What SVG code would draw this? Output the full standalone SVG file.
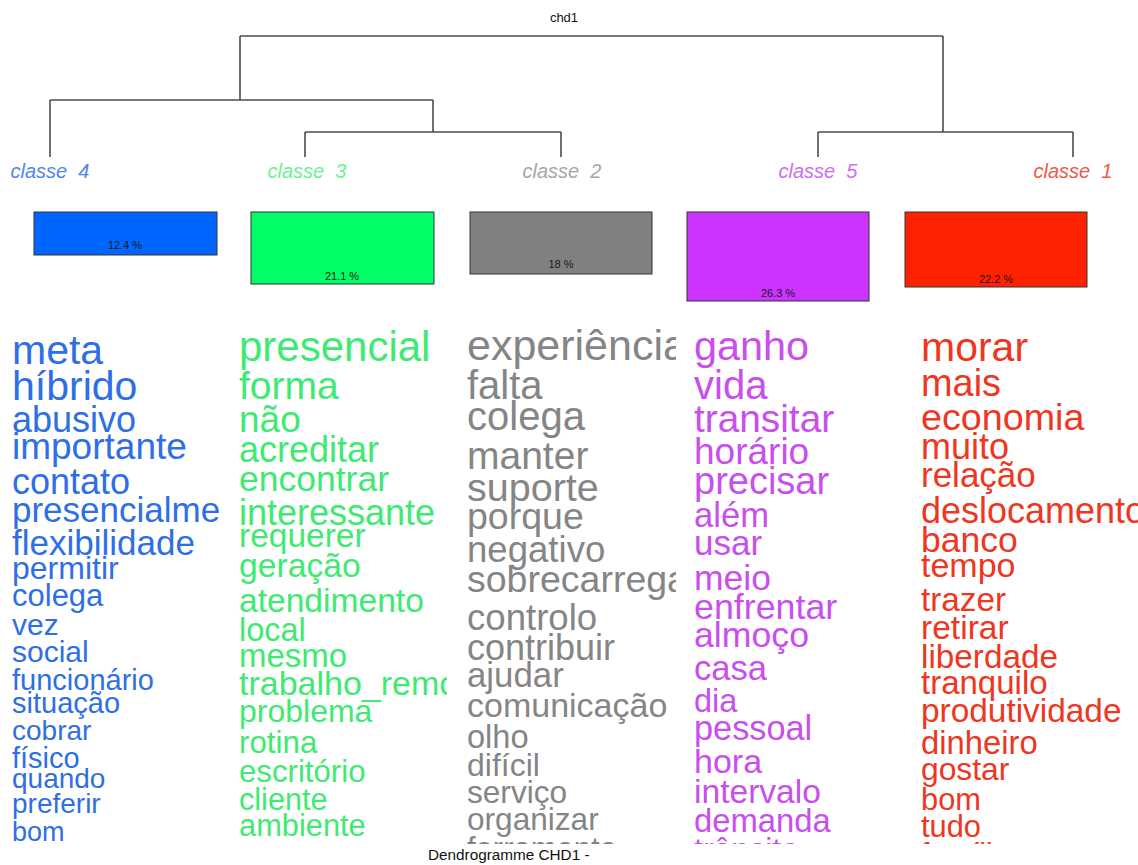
<svg xmlns="http://www.w3.org/2000/svg" width="1138" height="865" viewBox="0 0 1138 865">
<style>
text{font-family:"Liberation Sans",Arial,sans-serif}
.lbl{font-size:20px;font-style:italic;text-anchor:middle;white-space:pre}
.pct{font-size:11px;text-anchor:middle;fill:#1a1a1a}
.bar{stroke:#333;stroke-width:1}
.b{fill:#2f6fe6}.g{fill:#3eea72}.k{fill:#858585}.p{fill:#c84fee}.r{fill:#ee3620}
.edge{stroke:#4d4d4d;stroke-width:1.6;fill:none}
</style>
<defs>
<clipPath id="c4"><rect x="0" y="320" width="220" height="524"/></clipPath>
<clipPath id="c3"><rect x="234" y="320" width="213" height="524"/></clipPath>
<clipPath id="c2"><rect x="462" y="320" width="214" height="524"/></clipPath>
<clipPath id="c5"><rect x="689" y="320" width="214" height="524"/></clipPath>
<clipPath id="c1"><rect x="915" y="320" width="223" height="524"/></clipPath>
</defs>
<rect width="1138" height="865" fill="#fff"/>
<text x="564" y="22" font-size="13" text-anchor="middle" fill="#111">chd1</text>
<g id="connectors" class="edge">
<path d="M240 36H943M240 36V100M943 36V132"/>
<path d="M50 100H433M50 100V157M433 100V132"/>
<path d="M305 132H561M305 132V157M561 132V157"/>
<path d="M818 132H1073M818 132V157M1073 132V157"/>
</g>
<g id="classe4">
<text class="lbl" x="50" y="178" fill="#4f86ee">classe  4</text>
<rect class="bar" x="34" y="212" width="183" height="43" fill="#0066ff"/>
<text class="pct" x="125" y="249">12.4 %</text>
<g clip-path="url(#c4)" class="b">
<text x="12" y="364" font-size="41">meta</text>
<text x="12" y="400" font-size="41">híbrido</text>
<text x="12" y="432" font-size="36">abusivo</text>
<text x="12" y="459" font-size="37">importante</text>
<text x="12" y="494" font-size="36">contato</text>
<text x="12" y="522" font-size="35">presencialmente</text>
<text x="12" y="555" font-size="35">flexibilidade</text>
<text x="12" y="579" font-size="32">permitir</text>
<text x="12" y="606" font-size="31">colega</text>
<text x="12" y="635" font-size="30">vez</text>
<text x="12" y="662" font-size="30">social</text>
<text x="12" y="690" font-size="29">funcionário</text>
<text x="12" y="713" font-size="29">situação</text>
<text x="12" y="740" font-size="28">cobrar</text>
<text x="12" y="768" font-size="29">físico</text>
<text x="12" y="788" font-size="28">quando</text>
<text x="12" y="813" font-size="28">preferir</text>
<text x="12" y="841" font-size="27">bom</text>
</g>
</g>
<g id="classe3">
<text class="lbl" x="307" y="178" fill="#6ef095">classe  3</text>
<rect class="bar" x="251" y="212" width="183" height="72" fill="#00ff66"/>
<text class="pct" x="342" y="280">21.1 %</text>
<g clip-path="url(#c3)" class="g">
<text x="239" y="361" font-size="42">presencial</text>
<text x="239" y="399" font-size="39">forma</text>
<text x="239" y="432" font-size="37">não</text>
<text x="239" y="462" font-size="36">acreditar</text>
<text x="239" y="491" font-size="35.5">encontrar</text>
<text x="239" y="525" font-size="36">interessante</text>
<text x="239" y="547" font-size="33.5">requerer</text>
<text x="239" y="577" font-size="33.7">geração</text>
<text x="239" y="612" font-size="33.6">atendimento</text>
<text x="239" y="641" font-size="32.4">local</text>
<text x="239" y="667" font-size="33">mesmo</text>
<text x="239" y="695" font-size="34">trabalho_remoto</text>
<text x="239" y="722" font-size="32">problema</text>
<text x="239" y="753" font-size="31.3">rotina</text>
<text x="239" y="782" font-size="31.2">escritório</text>
<text x="239" y="810" font-size="30.6">cliente</text>
<text x="239" y="836" font-size="30.8">ambiente</text>
</g>
</g>
<g id="classe2">
<text class="lbl" x="562" y="178" fill="#a6a6a6">classe  2</text>
<rect class="bar" x="470" y="212" width="182" height="62" fill="#808080"/>
<text class="pct" x="561" y="268">18 %</text>
<g clip-path="url(#c2)" class="k">
<text x="467" y="360" font-size="43">experiência</text>
<text x="467" y="399" font-size="40">falta</text>
<text x="467" y="430" font-size="40">colega</text>
<text x="467" y="469" font-size="39">manter</text>
<text x="467" y="501" font-size="39.5">suporte</text>
<text x="467" y="529" font-size="37.5">porque</text>
<text x="467" y="562" font-size="36.6">negativo</text>
<text x="467" y="592" font-size="37.5">sobrecarregar</text>
<text x="467" y="630" font-size="36.6">controlo</text>
<text x="467" y="660" font-size="36">contribuir</text>
<text x="467" y="687" font-size="34.8">ajudar</text>
<text x="467" y="717" font-size="34">comunicação</text>
<text x="467" y="748" font-size="32.6">olho</text>
<text x="467" y="776" font-size="32">difícil</text>
<text x="467" y="803" font-size="31.6">serviço</text>
<text x="467" y="830" font-size="31.6">organizar</text>
<text x="467" y="859" font-size="31">ferramenta</text>
</g>
</g>
<g id="classe5">
<text class="lbl" x="818" y="178" fill="#cc6ef0">classe  5</text>
<rect class="bar" x="687" y="212" width="182" height="89" fill="#cc33ff"/>
<text class="pct" x="778" y="297">26.3 %</text>
<g clip-path="url(#c5)" class="p">
<text x="694" y="360" font-size="41.4">ganho</text>
<text x="694" y="399" font-size="40">vida</text>
<text x="694" y="432" font-size="38.8">transitar</text>
<text x="694" y="464" font-size="37">horário</text>
<text x="694" y="494" font-size="38">precisar</text>
<text x="694" y="527" font-size="34.6">além</text>
<text x="694" y="555" font-size="35">usar</text>
<text x="694" y="590" font-size="35.5">meio</text>
<text x="694" y="619" font-size="35.8">enfrentar</text>
<text x="694" y="647" font-size="35.7">almoço</text>
<text x="694" y="680" font-size="34.6">casa</text>
<text x="694" y="712" font-size="32.5">dia</text>
<text x="694" y="740" font-size="34.3">pessoal</text>
<text x="694" y="773" font-size="34">hora</text>
<text x="694" y="803" font-size="33.6">intervalo</text>
<text x="694" y="832" font-size="32.8">demanda</text>
<text x="694" y="860" font-size="32">trânsito</text>
</g>
</g>
<g id="classe1">
<text class="lbl" x="1073" y="178" fill="#ee5a48">classe  1</text>
<rect class="bar" x="905" y="212" width="182" height="75" fill="#ff2200"/>
<text class="pct" x="996" y="283">22.2 %</text>
<g clip-path="url(#c1)" class="r">
<text x="921" y="361" font-size="41">morar</text>
<text x="921" y="396" font-size="37.9">mais</text>
<text x="921" y="430" font-size="37.7">economia</text>
<text x="921" y="459" font-size="36">muito</text>
<text x="921" y="487" font-size="35">relação</text>
<text x="921" y="523" font-size="36">deslocamento</text>
<text x="921" y="552" font-size="35.5">banco</text>
<text x="921" y="577" font-size="34">tempo</text>
<text x="921" y="611" font-size="33.3">trazer</text>
<text x="921" y="639" font-size="33.6">retirar</text>
<text x="921" y="668" font-size="33.3">liberdade</text>
<text x="921" y="694" font-size="33">tranquilo</text>
<text x="921" y="722" font-size="33.4">produtividade</text>
<text x="921" y="754" font-size="32.8">dinheiro</text>
<text x="921" y="780" font-size="31.8">gostar</text>
<text x="921" y="810" font-size="30.8">bom</text>
<text x="921" y="837" font-size="30.8">tudo</text>
<text x="921" y="864" font-size="30">família</text>
</g>
</g>
<text x="428" y="860" font-size="15.3" fill="#111">Dendrogramme CHD1 -</text>
</svg>
